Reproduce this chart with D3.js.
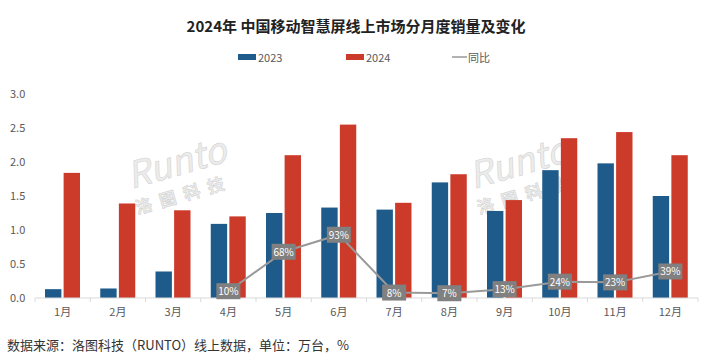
<!DOCTYPE html>
<html>
<head>
<meta charset="utf-8">
<script src="https://cdn.jsdelivr.net/npm/d3@7"></script>
<style>
  body { margin: 0; background: #fff; }
  svg text { font-family: "Noto Sans CJK SC", "Noto Sans", sans-serif; }
</style>
</head>
<body>
<div id="chart"></div>
<script>
const months = ["1月", "2月", "3月", "4月", "5月", "6月", "7月", "8月", "9月", "10月", "11月", "12月"];
const sales2023 = [0.13, 0.14, 0.39, 1.09, 1.25, 1.33, 1.30, 1.70, 1.28, 1.88, 1.98, 1.50];
const sales2024 = [1.84, 1.39, 1.29, 1.20, 2.10, 2.55, 1.40, 1.82, 1.44, 2.35, 2.44, 2.10];
// YoY only from April on
const yoyMonths = ["4月", "5月", "6月", "7月", "8月", "9月", "10月", "11月", "12月"];
const yoy = [10, 68, 93, 8, 7, 13, 24, 23, 39];
const yTicks = [0, 0.5, 1.0, 1.5, 2.0, 2.5, 3.0];

const width = 720, height = 364;
const blue = "#1f5b8a", red = "#cc3a2a", grey = "#999999";

const svg = d3.select("#chart").append("svg")
    .attr("width", width)
    .attr("height", height);

const x = d3.scaleBand().domain(months).range([35, 698]);
const x1 = d3.scaleBand().domain(["2023", "2024"]).range([10, 45]).paddingInner(0.12);
const y = d3.scaleLinear().domain([0, 3]).range([298, 94]);

// title
svg.append("text")
    .attr("x", 356).attr("y", 32)
    .attr("text-anchor", "middle")
    .attr("font-size", 15).attr("font-weight", "bold")
    .attr("fill", "#222")
    .text("2024年 中国移动智慧屏线上市场分月度销量及变化");

// legend
const legend = svg.append("g").attr("font-size", 11).attr("fill", "#595959");
legend.append("rect").attr("x", 238).attr("y", 54).attr("width", 18).attr("height", 6).attr("fill", blue);
legend.append("text").attr("x", 258).attr("y", 62).text("2023");
legend.append("rect").attr("x", 346).attr("y", 54).attr("width", 18).attr("height", 6).attr("fill", red);
legend.append("text").attr("x", 366).attr("y", 62).text("2024");
legend.append("line").attr("x1", 452).attr("x2", 467).attr("y1", 57).attr("y2", 57)
    .attr("stroke", grey).attr("stroke-width", 1.5);
legend.append("text").attr("x", 468).attr("y", 62).text("同比");

// watermarks
[[180, 175], [522, 175]].forEach(([cx, cy]) => {
    const g = svg.append("g")
        .attr("transform", `translate(${cx},${cy}) rotate(-16)`)
        .attr("fill", "#ececec").attr("stroke", "#d4d4d4").attr("stroke-width", 0.6);
    g.append("text").attr("x", 0).attr("y", 0)
        .attr("text-anchor", "middle")
        .attr("font-size", 36).attr("font-style", "italic")
        .attr("font-family", "Liberation Sans, sans-serif")
        .text("Runto");
    g.append("text").attr("x", -2).attr("y", 26)
        .attr("text-anchor", "middle")
        .attr("font-size", 17).attr("font-weight", "bold").attr("letter-spacing", 8)
        .text("洛图科技");
});

// y axis labels
svg.append("g").selectAll("text")
    .data(yTicks).enter().append("text")
    .attr("x", 10).attr("y", d => y(d) + 4)
    .attr("font-size", 11).attr("fill", "#595959")
    .attr("font-family", "Liberation Sans, sans-serif")
    .text(d => d.toFixed(1));

// bars
const groups = svg.append("g").selectAll("g")
    .data(months).enter().append("g")
    .attr("transform", d => `translate(${x(d)},0)`);

groups.append("rect")
    .attr("x", x1("2023")).attr("width", x1.bandwidth())
    .attr("y", (d, i) => y(sales2023[i]))
    .attr("height", (d, i) => y(0) - y(sales2023[i]))
    .attr("fill", blue);

groups.append("rect")
    .attr("x", x1("2024")).attr("width", x1.bandwidth())
    .attr("y", (d, i) => y(sales2024[i]))
    .attr("height", (d, i) => y(0) - y(sales2024[i]))
    .attr("fill", red);

// x axis
const xAxis = svg.append("g").attr("transform", `translate(0,${y(0)})`);
xAxis.append("line").attr("x1", 35).attr("x2", 698).attr("stroke", "#d9d9d9");
xAxis.selectAll(".tick")
    .data(months.concat(["end"])).enter().append("line")
    .attr("x1", (d, i) => 35 + i * x.step())
    .attr("x2", (d, i) => 35 + i * x.step())
    .attr("y1", 0).attr("y2", 4)
    .attr("stroke", "#d9d9d9");
xAxis.selectAll("text")
    .data(months).enter().append("text")
    .attr("x", d => x(d) + x.bandwidth() / 2)
    .attr("y", 18)
    .attr("text-anchor", "middle")
    .attr("font-size", 11).attr("fill", "#595959")
    .text(d => d);

// yoy line, drawn on same scale as fraction
const yoyPts = yoyMonths.map((m, i) => [x(m) + x.bandwidth() / 2, y(yoy[i] / 100)]);
svg.append("path")
    .attr("d", d3.line()(yoyPts))
    .attr("fill", "none").attr("stroke", grey).attr("stroke-width", 2);

const lbl = svg.append("g").selectAll("g")
    .data(yoyPts).enter().append("g")
    .attr("transform", d => `translate(${d[0]},${d[1]})`);
lbl.append("rect")
    .attr("x", -12).attr("y", -8).attr("width", 24).attr("height", 16)
    .attr("fill", "#808080");
lbl.append("text")
    .attr("y", 4)
    .attr("text-anchor", "middle")
    .attr("font-size", 10).attr("fill", "#fff")
    .attr("font-family", "Liberation Sans, sans-serif")
    .text((d, i) => yoy[i] + "%");

// source
svg.append("text")
    .attr("x", 7).attr("y", 350)
    .attr("font-size", 13).attr("fill", "#333")
    .text("数据来源：洛图科技（RUNTO）线上数据，单位：万台，%");
</script>
</body>
</html>
